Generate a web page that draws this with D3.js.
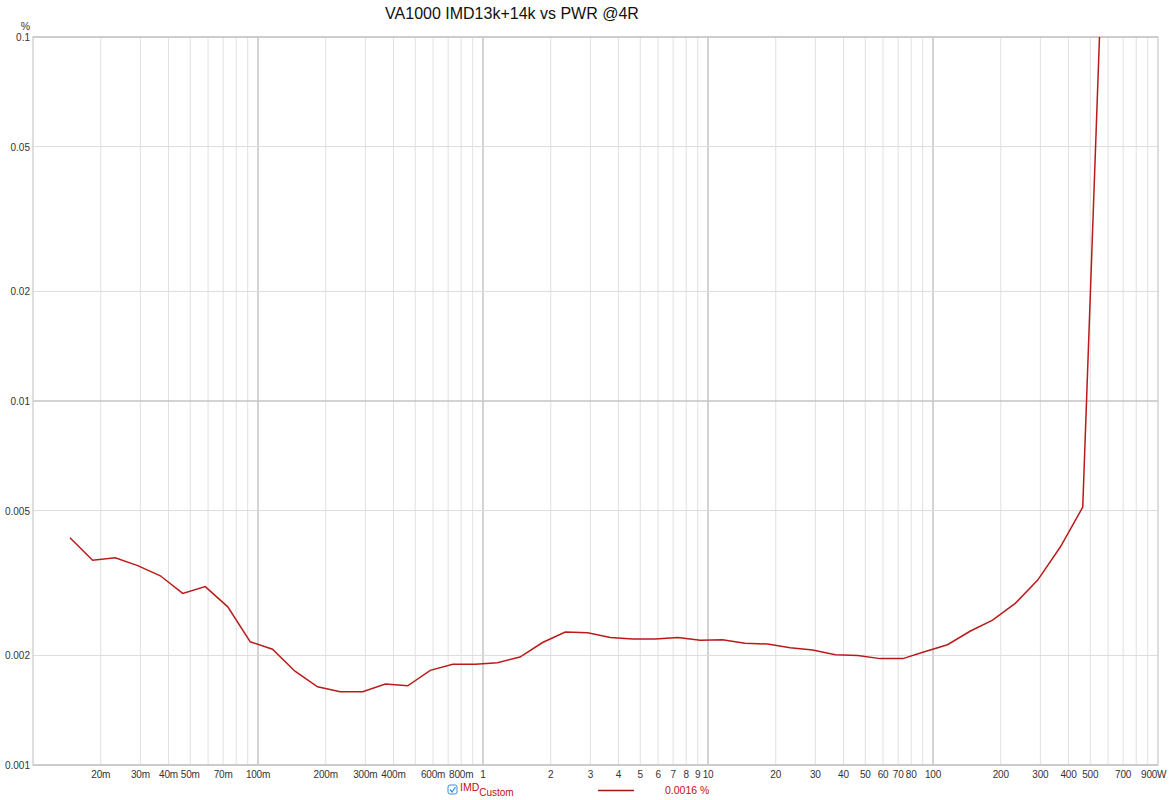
<!DOCTYPE html>
<html>
<head>
<meta charset="utf-8">
<script src="https://cdn.jsdelivr.net/npm/d3@7"></script>
<style>
  body { margin: 0; background: #fff; }
  text { font-family: "Liberation Sans", Arial, sans-serif; }
</style>
</head>
<body>
<div id="chart"></div>
<script>
// power in W, IMD in %
const power = [0.0146, 0.0184, 0.0232, 0.0292, 0.0368, 0.0463, 0.0583, 0.0734, 0.0924,
  0.116, 0.146, 0.184, 0.232, 0.292, 0.368, 0.463, 0.583, 0.734, 0.924,
  1.16, 1.46, 1.84, 2.32, 2.92, 3.68, 4.63, 5.83, 7.34, 9.24,
  11.6, 14.6, 18.4, 23.2, 29.2, 36.8, 46.3, 58.3, 73.4, 92.4,
  116, 146, 184, 232, 292, 368, 463, 583];
const imd = [0.00421, 0.00365, 0.00371, 0.00353, 0.00331, 0.00296, 0.00309, 0.00272, 0.00218,
  0.00208, 0.00181, 0.00164, 0.00159, 0.00159, 0.00167, 0.00165, 0.00182, 0.00189, 0.00189,
  0.00191, 0.00198, 0.00217, 0.00232, 0.00231, 0.00224, 0.00222, 0.00222, 0.00224, 0.00220,
  0.00221, 0.00216, 0.00215, 0.00210, 0.00207, 0.00201, 0.00200, 0.00196, 0.00196, 0.00205,
  0.00214, 0.00233, 0.00250, 0.00278, 0.00322, 0.00397, 0.00511, 0.28];

const yTicks = [0.1, 0.05, 0.02, 0.01, 0.005, 0.002, 0.001];
const yLabels = ["0.1", "0.05", "0.02", "0.01", "0.005", "0.002", "0.001"];
const xTicks = [0.02, 0.03, 0.04, 0.05, 0.07, 0.1, 0.2, 0.3, 0.4, 0.6, 0.8, 1, 2, 3, 4, 5, 6, 7, 8, 9, 10,
  20, 30, 40, 50, 60, 70, 80, 100, 200, 300, 400, 500, 700, 900];
const xLabels = ["20m", "30m", "40m", "50m", "70m", "100m", "200m", "300m", "400m", "600m", "800m", "1", "2", "3", "4", "5", "6", "7", "8", "9", "10",
  "20", "30", "40", "50", "60", "70", "80", "100", "200", "300", "400", "500", "700", "900W"];

const w = 1175;
const h = 800;
const pLeft = 33, pRight = 1158, pTop = 37, pBottom = 765;

const svg = d3.select('#chart').append("svg")
              .attr("width", w)
              .attr("height", h);

const x = d3.scaleLog().domain([0.01, 1000]).range([pLeft, pRight]);
const y = d3.scaleLog().domain([0.001, 0.1]).range([pBottom, pTop]);

// vertical grid at every 1..9 multiple
const gridX = [];
[0.01, 0.1, 1, 10, 100].forEach(dec => {
  for (let m = 1; m <= 9; m++) gridX.push(dec * m);
});
const isDecade = v => Math.abs(Math.log10(v) - Math.round(Math.log10(v))) < 1e-6;

svg.append("g")
   .selectAll("line")
   .data(gridX.filter(v => v > 0.011))
   .enter()
   .append("line")
   .attr("x1", d => x(d)).attr("x2", d => x(d))
   .attr("y1", pTop).attr("y2", pBottom)
   .attr("stroke", d => isDecade(d) ? "#c4c4c4" : "#e0e0e0")
   .attr("stroke-width", d => isDecade(d) ? 1.5 : 1);

svg.append("g")
   .selectAll("line")
   .data(yTicks)
   .enter()
   .append("line")
   .attr("x1", pLeft).attr("x2", pRight)
   .attr("y1", d => y(d)).attr("y2", d => y(d))
   .attr("stroke", d => isDecade(d) ? "#c4c4c4" : "#dcdcdc")
   .attr("stroke-width", d => isDecade(d) ? 1.5 : 1);

// frame
svg.append("rect")
   .attr("x", pLeft).attr("y", pTop)
   .attr("width", pRight - pLeft).attr("height", pBottom - pTop)
   .attr("fill", "none")
   .attr("stroke", "#c8c8c8")
   .attr("stroke-width", 1.2);

// y labels
svg.append("g")
   .selectAll("text")
   .data(yTicks)
   .enter()
   .append("text")
   .attr("x", 30)
   .attr("y", d => y(d) + 4)
   .attr("text-anchor", "end")
   .attr("font-size", 10)
   .attr("fill", "#333")
   .text((d, i) => yLabels[i]);

svg.append("text")
   .attr("x", 30).attr("y", 30)
   .attr("text-anchor", "end")
   .attr("font-size", 10.5)
   .attr("fill", "#333")
   .text("%");

// x labels
svg.append("g")
   .selectAll("text")
   .data(xTicks)
   .enter()
   .append("text")
   .attr("x", d => x(d))
   .attr("y", 778)
   .attr("text-anchor", "middle")
   .attr("dx", (d, i) => xLabels[i] === "900W" ? 6 : 0)
   .attr("font-size", 10)
   .attr("letter-spacing", -0.2)
   .attr("fill", "#333")
   .text((d, i) => xLabels[i]);

// title
svg.append("text")
   .attr("x", 512).attr("y", 19)
   .attr("text-anchor", "middle")
   .attr("font-size", 16)
   .attr("fill", "#111")
   .text("VA1000 IMD13k+14k vs PWR @4R");

// curve
svg.append("clipPath").attr("id", "clip")
   .append("rect")
   .attr("x", pLeft).attr("y", pTop)
   .attr("width", pRight - pLeft).attr("height", pBottom - pTop);

const line = d3.line()
               .x(d => x(d[0]))
               .y(d => y(d[1]));

svg.append("path")
   .datum(power.map((p, i) => [p, imd[i]]))
   .attr("clip-path", "url(#clip)")
   .attr("d", line)
   .attr("fill", "none")
   .attr("stroke", "#bb1a1a")
   .attr("stroke-width", 1.5);

// legend
const lg = svg.append("g");
lg.append("rect")
  .attr("x", 448).attr("y", 785)
  .attr("width", 9).attr("height", 9)
  .attr("rx", 2)
  .attr("fill", "#fff")
  .attr("stroke", "#3a8ee6");
lg.append("path")
  .attr("d", "M450,789.5 L452,792 L455.5,787")
  .attr("fill", "none")
  .attr("stroke", "#3a8ee6")
  .attr("stroke-width", 1.3);
const lt = lg.append("text")
  .attr("x", 460).attr("y", 791)
  .attr("font-size", 10.5)
  .attr("fill", "#c01010");
lt.append("tspan").text("IMD");
lt.append("tspan").attr("font-size", 10).attr("dy", 5).text("Custom");
lg.append("line")
  .attr("x1", 598).attr("x2", 634)
  .attr("y1", 790.5).attr("y2", 790.5)
  .attr("stroke", "#a01818")
  .attr("stroke-width", 1.5);
lg.append("text")
  .attr("x", 665).attr("y", 794)
  .attr("font-size", 10.5)
  .attr("fill", "#c01010")
  .text("0.0016 %");
</script>
</body>
</html>
